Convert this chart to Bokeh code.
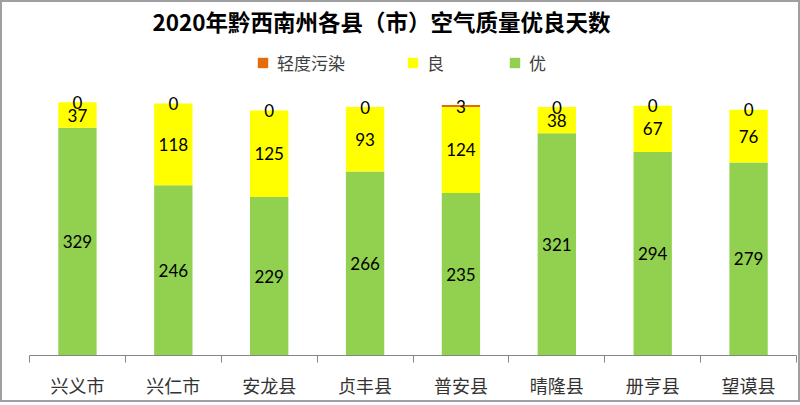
from bokeh.plotting import figure
from bokeh.models import (Range1d, FixedTicker, Label, Legend, LegendItem,
                          ColumnDataSource, InlineStyleSheet)
from bokeh.core.properties import value
from bokeh.embed import file_html
from bokeh.resources import INLINE

categories = ["兴义市", "兴仁市", "安龙县", "贞丰县", "普安县", "晴隆县", "册亨县", "望谟县"]
you = [329, 246, 229, 266, 235, 321, 294, 279]      # 优
liang = [37, 118, 125, 93, 124, 38, 67, 76]         # 良
qingdu = [0, 0, 0, 0, 3, 0, 0, 0]                   # 轻度污染
series_names = ["优", "良", "轻度污染"]
colors = ["#92D050", "#FFFF00", "#E46C0A"]
title_text = "2020年黔西南州各县（市）空气质量优良天数"

W, H = 800, 405
frame_bottom = 50
px_per_unit = 0.692
cat_px = (796 - 29) / len(categories)
x0 = -29 / cat_px
x1 = len(categories) + (W - 796) / cat_px
y_top = (H - frame_bottom) / px_per_unit

p = figure(width=W, height=H, output_backend="svg", toolbar_location=None,
           x_range=Range1d(x0, x1), y_range=Range1d(0, y_top),
           min_border_left=0, min_border_right=0, min_border_top=0,
           min_border_bottom=frame_bottom)
p.grid.visible = False
p.yaxis.visible = False
p.outline_line_color = None
p.background_fill_color = "white"
p.border_fill_color = "white"
p.stylesheets = [InlineStyleSheet(css=(
    ":host { position: relative; }\n"
    ":host::after { content: ''; position: absolute; left: 0; top: 0; "
    "width: 800px; height: 402px; box-sizing: border-box; "
    "border: 2px solid #A0A0A0; pointer-events: none; z-index: 100; }"))]

xs = [i + 0.5 for i in range(len(categories))]
src = ColumnDataSource(dict(x=xs, cat=categories, you=you, liang=liang, qingdu=qingdu))
rs = p.vbar_stack(["you", "liang", "qingdu"], x="x", width=0.4, source=src,
                  color=colors, line_color=None)

# value labels
b1 = [0] * len(you)
b2 = [a for a in you]
b3 = [a + b for a, b in zip(you, liang)]
for vals, base in [(you, b1), (liang, b2), (qingdu, b3)]:
    ys = [b + v / 2 for b, v in zip(base, vals)]
    p.text(x=xs, y=ys, text=[str(v) for v in vals], text_align="center",
           text_baseline="middle", text_font=value("Lato"),
           text_font_size="17px", text_color="black")

ax = p.xaxis[0]
ax.bounds = (0, len(categories))
ax.ticker = FixedTicker(ticks=xs, minor_ticks=list(range(len(categories) + 1)))
ax.major_label_overrides = {x: c for x, c in zip(xs, categories)}
ax.major_tick_line_color = None
ax.major_tick_out = 0
ax.major_tick_in = 0
ax.minor_tick_line_color = "#868686"
ax.minor_tick_out = 7
ax.minor_tick_in = 0
ax.axis_line_color = "#868686"
ax.axis_line_width = 1
ax.major_label_standoff = 9
ax.major_label_text_font = "Noto Sans CJK SC"
ax.major_label_text_font_size = "18px"
ax.major_label_text_color = "#333333"

# legend
legend = Legend(items=[LegendItem(label=series_names[2], renderers=[rs[2]]),
                       LegendItem(label=series_names[1], renderers=[rs[1]]),
                       LegendItem(label=series_names[0], renderers=[rs[0]])],
                orientation="horizontal", location=(256, H - frame_bottom - 75),
                glyph_width=13, glyph_height=13, label_standoff=8, spacing=61,
                label_text_font="Noto Sans CJK SC", label_text_font_size="17px",
                label_text_color="#404040", background_fill_alpha=0,
                border_line_color=None, padding=0, margin=0)
p.add_layout(legend)

p.add_layout(Label(x=381, y=H - frame_bottom - 20, x_units="screen", y_units="screen",
                   text=title_text, text_align="center", text_baseline="middle",
                   text_font="Noto Sans CJK SC", text_font_style="bold",
                   text_font_size="22.5px", text_color="black"))

open("out.html", "w").write(file_html(p, INLINE))
